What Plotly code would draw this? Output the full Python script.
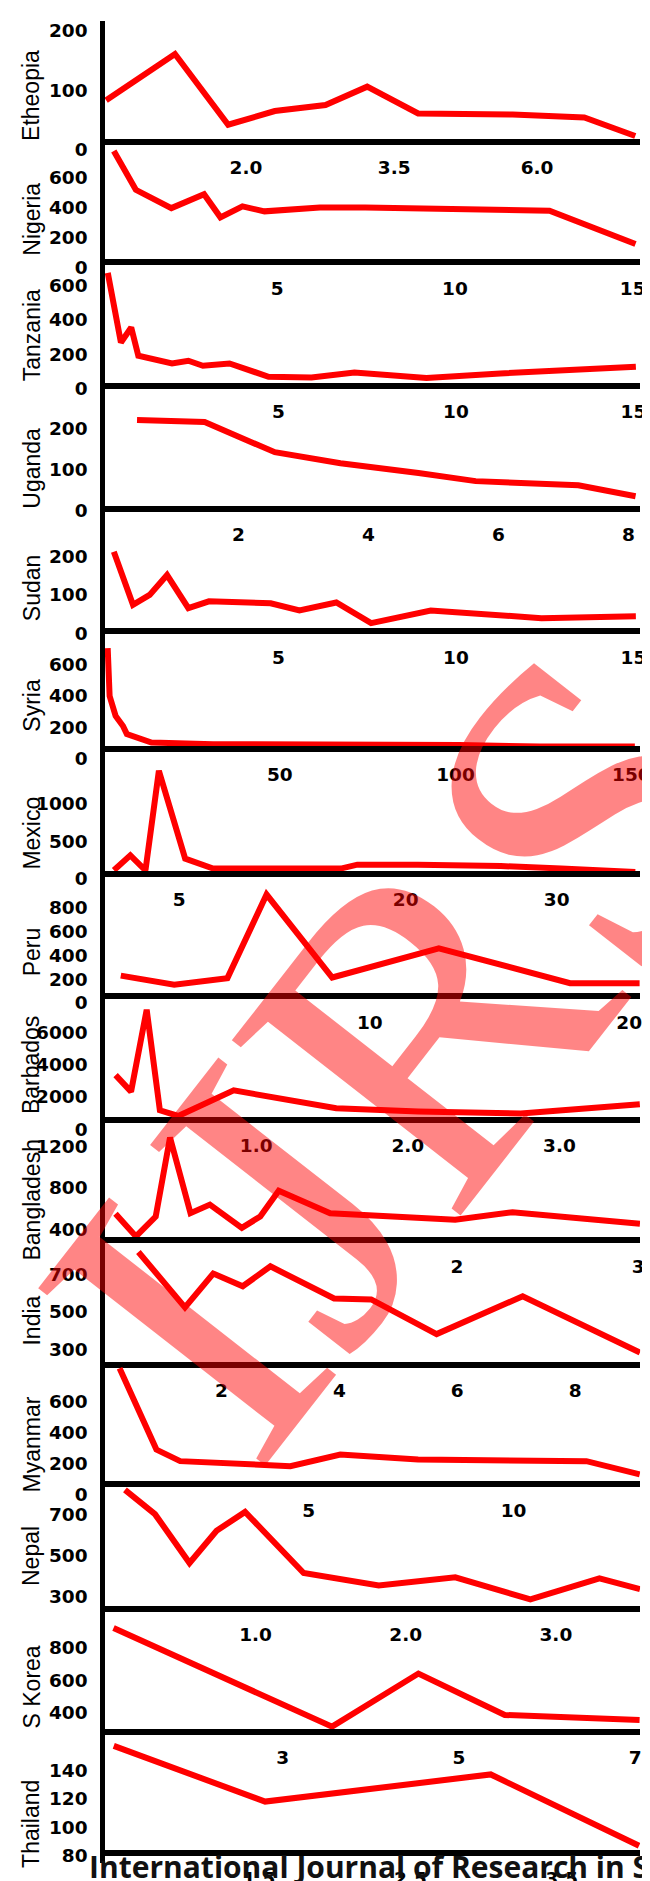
import plotly.graph_objects as go

W, H = 650, 1881

# ---------------- data ----------------
countries = ["Etheopia", "Nigeria", "Tanzania", "Uganda", "Sudan", "Syria", "Mexico", "Peru",
             "Barbados", "Bangladesh", "India", "Myanmar", "Nepal", "S Korea", "Thailand"]

eth_x = [1.18, 1.53, 1.87, 2.23, 2.70, 3.16, 3.83, 5.47, 7.17, 8.69]
eth_y = [83, 161, 42, 65, 75, 106, 61, 59, 54, 23]

nig_x = [0.40, 1.02, 2.02, 2.94, 3.40, 4.02, 4.64, 6.20, 7.47, 8.97, 10.69, 12.66, 15.08]
nig_y = [777, 517, 395, 488, 333, 406, 373, 399, 399, 390, 383, 377, 155]

tan_x = [0.19, 0.41, 0.56, 0.85, 1.05, 2.0, 2.46, 2.87, 3.62, 4.72, 5.93, 7.14, 9.17, 11.25, 15.07]
tan_y = [674, 404, 269, 356, 192, 147, 163, 134, 147, 70, 66, 95, 62, 89, 128]

uga_x = [0.44, 1.48, 2.56, 3.57, 4.77, 5.65, 7.23, 8.11]
uga_y = [221, 216, 142, 115, 91, 71, 61, 34]

sud_x = [0.36, 0.90, 1.37, 1.86, 2.46, 3.04, 4.78, 5.59, 6.63, 7.61, 9.29, 12.41, 15.07]
sud_y = [213, 74, 100, 152, 65, 83, 78, 59, 80, 26, 59, 39, 44]

syr_x = [1.05, 1.6, 3.3, 5.4, 6.5, 13.5, 31, 66, 101, 124, 151]
syr_y = [704, 398, 271, 207, 155, 101, 91, 91, 85, 76, 76]

mex_x = [0.68, 1.77, 2.77, 3.66, 5.4, 7.25, 15.7, 16.8, 20.8, 26.3, 30.3, 35.2]
mex_y = [108, 308, 108, 1441, 264, 131, 131, 184, 184, 165, 131, 85]

per_x = [0.40, 2.46, 4.51, 6.02, 8.55, 12.66, 17.72, 20.4]
per_y = [229, 152, 208, 907, 213, 457, 166, 166]

bar_x = [0.073, 0.175, 0.278, 0.365, 0.486, 0.852, 1.528, 2.07, 2.745, 3.53]
bar_y = [3345, 2323, 7390, 1171, 820, 2403, 1294, 1091, 968, 1541]

ban_x = [0.115, 0.228, 0.337, 0.416, 0.529, 0.636, 0.8125, 0.914, 1.016, 1.30, 1.99, 2.307, 3.01]
ban_y = [550, 332, 524, 1285, 556, 639, 415, 524, 773, 556, 492, 566, 454]

ind_x = [0.59, 1.38, 1.86, 2.36, 2.83, 3.91, 4.54, 5.65, 7.11, 9.10]
ind_y = [817, 524, 703, 636, 741, 571, 566, 383, 583, 285]

mya_x = [0.38, 0.96, 1.28, 1.86, 3.26, 4.55, 5.77, 7.67, 11.78, 13.08]
mya_y = [811, 481, 289, 215, 200, 183, 257, 225, 215, 130]

nep_x = [0.13, 0.33, 0.56, 0.74, 0.93, 1.32, 1.82, 2.33, 2.83, 3.29, 3.56]
nep_y = [819, 701, 463, 620, 712, 414, 353, 393, 285, 388, 336]

kor_x = [1.08, 3.56, 4.54, 5.52, 7.05]
kor_y = [922, 313, 641, 385, 354]

tha_x = [0.54, 1.54, 3.03, 4.01]
tha_y = [157, 118, 137, 87]

series_x = [eth_x, nig_x, tan_x, uga_x, sud_x, syr_x, mex_x, per_x, bar_x, ban_x, ind_x, mya_x, nep_x, kor_x, tha_x]
series_y = [eth_y, nig_y, tan_y, uga_y, sud_y, syr_y, mex_y, per_y, bar_y, ban_y, ind_y, mya_y, nep_y, kor_y, tha_y]

# tick labels
y_ticks = [[0, 100, 200], [0, 200, 400, 600], [0, 200, 400, 600], [0, 100, 200], [0, 100, 200],
           [0, 200, 400, 600], [0, 500, 1000], [0, 200, 400, 600, 800], [0, 2000, 4000, 6000],
           [400, 800, 1200], [300, 500, 700], [0, 200, 400, 600], [300, 500, 700],
           [400, 600, 800], [80, 100, 120, 140]]
x_ticks = [[2.0, 3.5, 6.0], [5, 10, 15], [5, 10, 15], [2, 4, 6, 8], [5, 10, 15], [50, 100, 150],
           [5, 20, 30], [10, 20], [1.0, 2.0, 3.0], [2, 3], [2, 4, 6, 8], [5, 10], [1.0, 2.0, 3.0],
           [3, 5, 7], [1.5, 2.5, 3.5]]
x_ticktext = [["2.0", "3.5", "6.0"], ["5", "10", "15"], ["5", "10", "15"], ["2", "4", "6", "8"],
              ["5", "10", "15"], ["50", "100", "150"], ["5", "20", "30"], ["10", "20"],
              ["1.0", "2.0", "3.0"], ["2", "3"], ["2", "4", "6", "8"], ["5", "10"],
              ["1.0", "2.0", "3.0"], ["3", "5", "7"], ["1.5", "2.5", "3.5"]]

# ---------------- layout geometry (pixels) ----------------
panels = [
    dict(T=12, B=150, A=133.3, yr=[-14.7, 216.6], xr=[0.070, 0.947], xt="log"),
    dict(T=133.3, B=270, A=254.5, yr=[-72, 839], xr=[0.152, 15.21], xt="linear"),
    dict(T=254.5, B=392, A=378.3, yr=[-61.5, 735], xr=[0.111, 15.19], xt="linear"),
    dict(T=378.3, B=515, A=502, yr=[-28.9, 305.4], xr=[-0.053, 8.18], xt="linear"),
    dict(T=502, B=638, A=625, yr=[-29.5, 325.3], xr=[0.111, 15.19], xt="linear"),
    dict(T=625, B=758, A=743.3, yr=[-34, 810.5], xr=[0.28, 152.5], xt="linear"),
    dict(T=743.3, B=885, A=868.3, yr=[-158.7, 1730.7], xr=[0.091, 35.52], xt="linear"),
    dict(T=868.3, B=1008, A=991.7, yr=[-81.3, 1081.9], xr=[-0.209, 20.42], xt="linear"),
    dict(T=991.7, B=1133, A=1116, yr=[-491, 8209], xr=[0.003, 3.532], xt="linear"),
    dict(T=1116, B=1245, A=1236.7, yr=[214, 1451], xr=[0.057, 3.011], xt="linear"),
    dict(T=1236.7, B=1368, A=1361.7, yr=[187, 878], xr=[0.023, 9.103], xt="linear"),
    dict(T=1361.7, B=1500, A=1481.7, yr=[-51, 832], xr=[0.024, 13.09], xt="linear"),
    dict(T=1481.7, B=1615, A=1606.7, yr=[199, 846], xr=[-0.003, 3.561], xt="linear"),
    dict(T=1606.7, B=1738, A=1730, yr=[233, 1040.6], xr=[0.983, 7.056], xt="linear"),
    dict(T=1730, B=1862, A=1851.7, yr=[74.9, 167], xr=[0.482, 4.017], xt="linear"),
]
name_y = [86.7, 211, 328, 461, 581, 699, 827.5, 946.7, 1061, 1196, 1317.5, 1442, 1554, 1685, 1823]

X0, X1 = 98.5, 642.0
tickfont = dict(family="DejaVu Sans", size=18.5, color="black", weight="bold")
CLEAR = "rgba(0,0,0,0)"

fig = go.Figure()
layout = dict(width=W, height=H, margin=dict(l=0, r=0, t=0, b=0),
              paper_bgcolor="white", plot_bgcolor=CLEAR, showlegend=False)

for i, p in enumerate(panels):
    k = "" if i == 0 else str(i + 1)
    fig.add_trace(go.Scatter(x=series_x[i], y=series_y[i], mode="lines",
                             line=dict(color="#ff0000", width=6),
                             xaxis="x" + k, yaxis="y" + k, name=countries[i],
                             hoverinfo="skip"))
    layout["xaxis" + k] = dict(
        domain=[X0 / W, X1 / W], anchor="free", position=1 - p["A"] / H,
        type=p["xt"], range=p["xr"], showline=True, linecolor="black", linewidth=6,
        ticks="outside", ticklen=7, tickcolor=CLEAR,
        tickvals=x_ticks[i], ticktext=x_ticktext[i], tickfont=tickfont,
        showgrid=False, zeroline=False, fixedrange=True)
    layout["yaxis" + k] = dict(
        domain=[1 - p["B"] / H, 1 - p["T"] / H], anchor="x" + k, range=p["yr"],
        showline=True, linecolor="black", linewidth=4.5,
        ticks="outside", ticklen=9, tickcolor=CLEAR,
        tickvals=y_ticks[i], tickfont=tickfont,
        showgrid=False, zeroline=False, fixedrange=True)

annotations = [
    dict(text="IJRS", x=400 / W, y=1 - 1045 / H, xref="paper", yref="paper",
         showarrow=False, textangle=-52, xanchor="center", yanchor="middle",
         font=dict(family="Liberation Serif", size=440, color="rgba(255,0,0,0.48)"))
]
for i, c in enumerate(countries):
    annotations.append(dict(text=c, x=24 / W, y=1 - name_y[i] / H, xref="paper", yref="paper",
                            showarrow=False, textangle=-90, xanchor="center", yanchor="middle",
                            font=dict(family="Liberation Sans", size=23, color="black")))
annotations.append(dict(text="International Journal of Research in S", x=80 / W, y=1 - 1865 / H,
                        xref="paper", yref="paper", showarrow=False, xanchor="left",
                        yanchor="middle",
                        font=dict(family="Open Sans", size=30, color="#111111", weight="bold")))
layout["annotations"] = annotations

fig.update_layout(**layout)
fig.write_html("out.html")
